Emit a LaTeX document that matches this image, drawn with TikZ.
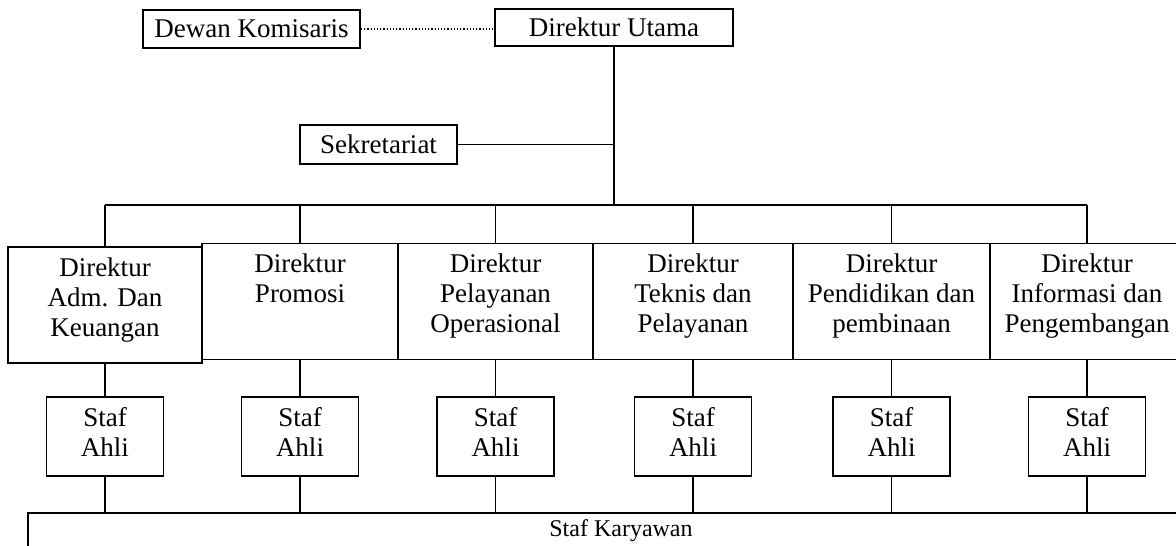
\documentclass[tikz,border=0pt]{standalone}
\usepackage{fontspec}
\setmainfont{Liberation Serif}
\begin{document}
\begin{tikzpicture}[x=1pt,y=-1pt,line width=1.8pt,
  box/.style={draw,line width=1.9pt,inner sep=0pt,font=\fontsize{27}{30}\selectfont},
  dirbox/.style={box,minimum height=116pt},
  stafbox/.style={box,minimum width=117pt,minimum height=79pt},
  conn/.style={line width=1.8pt}]
\useasboundingbox (0,0) rectangle (1176,546);
\clip (0,0) rectangle (1176,546);
\fill[white] (0,0) rectangle (1176,546);

% top level
\node[box,minimum width=217pt,minimum height=38pt] (dk) at (251.5,29) {Dewan Komisaris};
\node[box,minimum width=238pt,minimum height=37pt] (du) at (614,27.5) {Direktur Utama};
\node[box,minimum width=157pt,minimum height=39pt] (sek) at (378.5,144.5) {Sekretariat};

\draw[dotted,line width=1.2pt] (dk.east) -- (dk.east -| du.west);

\coordinate (bus) at (0,205);

% directors
\newcommand{\dtext}[2]{\parbox[c][116pt][t]{#1}{\centering\rule{0pt}{29pt}#2}}
\node[dirbox,minimum width=194pt] (d1) at (105,305) {\dtext{190pt}{Direktur\\Adm. Dan\\Keuangan}};
\node[dirbox,minimum width=196pt] (d2) at (300,301.5) {\dtext{192pt}{Direktur\\Promosi}};
\node[dirbox,minimum width=195pt] (d3) at (495.5,301.5) {\dtext{191pt}{Direktur\\Pelayanan\\Operasional}};
\node[dirbox,minimum width=200pt] (d4) at (693,301.5) {\dtext{196pt}{Direktur\\Teknis dan\\Pelayanan}};
\node[dirbox,minimum width=197pt] (d5) at (891.5,301.5) {\dtext{193pt}{Direktur\\Pendidikan dan\\pembinaan}};
\node[dirbox,minimum width=194pt] (d6) at (1087,301.5) {\dtext{190pt}{Direktur\\Informasi dan\\Pengembangan}};

% staf ahli
\newcommand{\stext}{\parbox[c][79pt][t]{110pt}{\centering\rule{0pt}{29pt}Staf\\Ahli}}
\node[stafbox] (s1) at (105,436.5) {\stext};
\node[stafbox] (s2) at (300,436.5) {\stext};
\node[stafbox] (s3) at (495.5,436.5) {\stext};
\node[stafbox] (s4) at (693,436.5) {\stext};
\node[stafbox] (s5) at (891.5,436.5) {\stext};
\node[stafbox] (s6) at (1087,436.5) {\stext};

% staf karyawan
\node[draw,line width=1.9pt,inner sep=0pt,anchor=north west,minimum width=1200pt,minimum height=80pt] (sk) at (27,512) {};
\node[font=\fontsize{24}{28}\selectfont] (skt) at (621,531) {Staf Karyawan};

% connectors
\draw[conn] (sek.east) -- (sek.east -| du.south);
\draw[conn] (du.south) -- (du.south |- bus);
\draw[conn] (d1.north |- bus) -- (d6.north |- bus);
\foreach \i in {1,...,6}{
  \draw[conn] (d\i.north |- bus) -- (d\i.north);
  \draw[conn] (d\i.south) -- (s\i.north);
  \draw[conn] (s\i.south) -- (s\i.south |- sk.north);
}
\end{tikzpicture}
\end{document}
